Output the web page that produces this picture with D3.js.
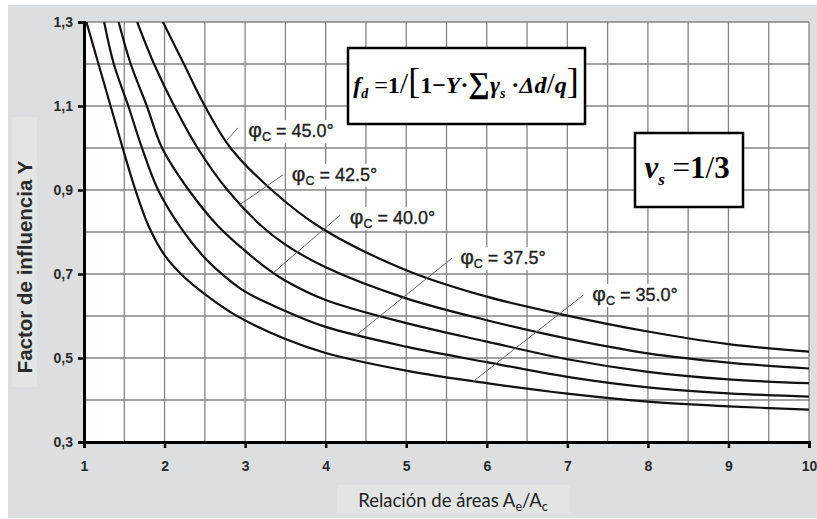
<!DOCTYPE html>
<meta charset="utf-8">
<script src="https://d3js.org/d3.v7.min.js"></script>
<style>
  body { margin: 0; background: #fff; }
  .tick text { font-family: 'Liberation Sans', Arial, sans-serif; font-weight: bold; font-size: 14px; fill: #2a2a2a; }
</style>
<div id="chart"></div>
<script>
// axis ticks
const xTicks = [1, 2, 3, 4, 5, 6, 7, 8, 9, 10];
const yTicks = [0.3, 0.5, 0.7, 0.9, 1.1, 1.3];

// curves, one per friction angle
const phiValues = ["35.0", "37.5", "40.0", "42.5", "45.0"];
const x35 = [1.03, 1.18, 1.33, 1.48, 1.63, 1.8, 2.0, 2.22, 2.5, 2.88, 3.5, 4, 5, 6, 7, 8, 9, 10];
const y35 = [1.30, 1.20, 1.10, 1.00, 0.905, 0.815, 0.745, 0.697, 0.652, 0.602, 0.545, 0.512, 0.47, 0.44, 0.415, 0.396, 0.385, 0.377];
const x375 = [1.25, 1.37, 1.55, 1.72, 1.92, 2.22, 2.5, 2.7, 3, 3.5, 4, 5, 6, 7, 8, 9, 10];
const y375 = [1.30, 1.20, 1.10, 1.00, 0.90, 0.805, 0.738, 0.702, 0.658, 0.612, 0.574, 0.527, 0.49, 0.455, 0.43, 0.416, 0.408];
const x40 = [1.43, 1.58, 1.78, 1.97, 2.3, 2.66, 3.0, 3.33, 3.5, 4, 5, 6, 7, 8, 9, 10];
const y40 = [1.30, 1.20, 1.10, 1.00, 0.90, 0.815, 0.755, 0.705, 0.684, 0.638, 0.583, 0.539, 0.497, 0.467, 0.449, 0.44];
const x425 = [1.66, 1.87, 2.12, 2.41, 2.78, 3.2, 3.5, 4, 5, 6, 7, 8, 9, 10];
const y425 = [1.30, 1.20, 1.10, 1.00, 0.90, 0.815, 0.77, 0.716, 0.642, 0.59, 0.546, 0.511, 0.489, 0.475];
const x45 = [1.98, 2.24, 2.5, 2.82, 3.33, 3.94, 5, 6, 7, 8, 9, 10];
const y45 = [1.30, 1.20, 1.10, 1.00, 0.90, 0.81, 0.709, 0.646, 0.601, 0.563, 0.533, 0.515];

const curves = [
  { phi: phiValues[0], xs: x35, ys: y35 },
  { phi: phiValues[1], xs: x375, ys: y375 },
  { phi: phiValues[2], xs: x40, ys: y40 },
  { phi: phiValues[3], xs: x425, ys: y425 },
  { phi: phiValues[4], xs: x45, ys: y45 }
];

const W = 817, H = 519;
const svg = d3.select("#chart").append("svg").attr("width", W).attr("height", H);

// grey panel
svg.append("rect").attr("x", 8).attr("y", 5).attr("width", W - 8).attr("height", H - 6).attr("fill", "#dddedf");
// lighter boxes behind axis titles
svg.append("rect").attr("x", 12).attr("y", 117).attr("width", 25).attr("height", 270).attr("fill", "#e3e4e4");
svg.append("rect").attr("x", 337).attr("y", 485).attr("width", 233).attr("height", 28).attr("fill", "#e3e4e4");

const x = d3.scaleLinear().domain([1, 10]).range([84, 809]);
const y = d3.scaleLinear().domain([0.3, 1.3]).range([442, 22]);

// plot area
svg.append("rect").attr("x", x(1)).attr("y", y(1.3))
  .attr("width", x(10) - x(1)).attr("height", y(0.3) - y(1.3)).attr("fill", "#fff");

// grid
const grid = svg.append("g").attr("stroke", "#858585").attr("stroke-width", 1.3);
d3.range(1.5, 10.01, 0.5).forEach(v => {
  grid.append("line").attr("x1", x(v)).attr("x2", x(v)).attr("y1", y(0.3)).attr("y2", y(1.3));
});
d3.range(0.4, 1.301, 0.1).forEach(v => {
  grid.append("line").attr("x1", x(1)).attr("x2", x(10)).attr("y1", y(v)).attr("y2", y(v));
});

// curves
svg.append("clipPath").attr("id", "plotclip").append("rect")
  .attr("x", x(1)).attr("y", y(1.3)).attr("width", x(10) - x(1)).attr("height", y(0.3) - y(1.3));
const line = d3.line().x(d => x(d[0])).y(d => y(d[1])).curve(d3.curveCatmullRom.alpha(0.5));
svg.append("g").attr("clip-path", "url(#plotclip)")
  .selectAll("path").data(curves).enter().append("path")
  .attr("d", c => line(c.xs.map((v, i) => [v, c.ys[i]])))
  .attr("fill", "none").attr("stroke", "#111").attr("stroke-width", 2.2);

// curve labels with leader lines (data coordinates)
const notes = [
  { phi: "45.0", from: [2.91, 1.048], to: [2.776, 1.019], tx: 3.04, ty: 1.04 },
  { phi: "42.5", from: [3.47, 0.936], to: [2.94, 0.866], tx: 3.58, ty: 0.936 },
  { phi: "40.0", from: [4.18, 0.840], to: [3.35, 0.703], tx: 4.30, ty: 0.833 },
  { phi: "37.5", from: [5.57, 0.738], to: [4.37, 0.553], tx: 5.67, ty: 0.738 },
  { phi: "35.0", from: [7.20, 0.650], to: [5.83, 0.444], tx: 7.31, ty: 0.650 }
];
const ng = svg.append("g");
notes.forEach(n => {
  const bg = ng.append("rect").attr("fill", "#fff");
  const t = ng.append("text").attr("x", x(n.tx)).attr("y", y(n.ty) + 6)
    .attr("font-family", "'Liberation Sans', Arial, sans-serif").attr("font-size", 18)
    .attr("fill", "#222").attr("stroke", "#222").attr("stroke-width", 0.35);
  t.append("tspan").attr("font-size", 21).text("φ");
  t.append("tspan").attr("font-size", 12.5).attr("dy", 4).text("C");
  t.append("tspan").attr("dy", -4).text(" = " + n.phi + "°");
  const b = t.node().getBBox();
  bg.attr("x", b.x - 1).attr("y", b.y + 2).attr("width", b.width + 2).attr("height", b.height - 3);
  ng.append("line").attr("x1", x(n.from[0])).attr("y1", y(n.from[1]))
    .attr("x2", x(n.to[0])).attr("y2", y(n.to[1]))
    .attr("stroke", "#666").attr("stroke-width", 1);
});

// axes
const yAxis = svg.append("g").attr("transform", `translate(${x(1)},0)`)
  .call(d3.axisLeft(y).tickValues(yTicks).tickSize(6).tickPadding(5).tickFormat(d => d3.format(".1f")(d).replace(".", ",")));
const xAxis = svg.append("g").attr("transform", `translate(0,${y(0.3)})`)
  .call(d3.axisBottom(x).tickValues(xTicks).tickSize(6).tickPadding(13).tickFormat(d3.format("d")));
[xAxis, yAxis].forEach(a => {
  a.select(".domain").attr("stroke", "#000").attr("stroke-width", 3);
  a.selectAll(".tick line").attr("stroke", "#000").attr("stroke-width", 2.5);
});

// axis titles
svg.append("text").attr("transform", "translate(32,267) rotate(-90)")
  .attr("text-anchor", "middle").attr("font-family", "'Liberation Sans', Arial, sans-serif")
  .attr("font-weight", "bold").attr("font-size", 20.5).attr("fill", "#2a2a2a")
  .text("Factor de influencia Y");

const xt = svg.append("text").attr("x", 453).attr("y", 507).attr("text-anchor", "middle")
  .attr("font-family", "Lato, 'Open Sans', sans-serif").attr("font-size", 18.5).attr("fill", "#222");
xt.append("tspan").text("Relación de áreas A");
xt.append("tspan").attr("font-size", 12.5).attr("dy", 4).text("e");
xt.append("tspan").attr("dy", -4).text("/A");
xt.append("tspan").attr("font-size", 12.5).attr("dy", 4).text("c");

// formula box
svg.append("rect").attr("x", 348).attr("y", 48).attr("width", 237).attr("height", 76)
  .attr("fill", "#fff").attr("stroke", "#000").attr("stroke-width", 2.5);
const f = svg.append("text").attr("x", 466).attr("y", 93).attr("text-anchor", "middle")
  .attr("font-family", "'Liberation Serif', 'Times New Roman', serif").attr("font-weight", "bold")
  .attr("font-size", 24).attr("fill", "#000");
f.append("tspan").attr("font-style", "italic").text("f");
f.append("tspan").attr("font-style", "italic").attr("font-size", 14).attr("dy", 5).text("d");
f.append("tspan").attr("dy", -5).attr("font-weight", "normal").text(" =");
f.append("tspan").text("1");
f.append("tspan").attr("font-weight", "normal").attr("font-size", 30).text("/");
f.append("tspan").attr("font-weight", "normal").attr("font-size", 36).text("[");
f.append("tspan").text("1−");
f.append("tspan").attr("font-style", "italic").text("Y");
f.append("tspan").text("·");
f.append("tspan").attr("font-size", 30).text("∑");
f.append("tspan").attr("font-style", "italic").text("γ");
f.append("tspan").attr("font-style", "italic").attr("font-size", 14).attr("dy", 5).text("s");
f.append("tspan").attr("dy", -5).text(" ·");
f.append("tspan").attr("font-style", "italic").text("Δd");
f.append("tspan").attr("font-weight", "normal").attr("font-size", 30).text("/");
f.append("tspan").attr("font-style", "italic").text("q");
f.append("tspan").attr("font-weight", "normal").attr("font-size", 36).text("]");

// poisson ratio box
svg.append("rect").attr("x", 635).attr("y", 133).attr("width", 108).attr("height", 74)
  .attr("fill", "#fff").attr("stroke", "#000").attr("stroke-width", 2.5);
const nu = svg.append("text").attr("x", 687).attr("y", 178).attr("text-anchor", "middle")
  .attr("font-family", "'Liberation Serif', 'Times New Roman', serif").attr("font-weight", "bold")
  .attr("font-size", 31).attr("fill", "#000");
nu.append("tspan").attr("font-style", "italic").text("ν");
nu.append("tspan").attr("font-style", "italic").attr("font-size", 17).attr("dy", 7).text("s");
nu.append("tspan").attr("dy", -7).attr("font-weight", "normal").text(" =");
nu.append("tspan").text("1");
nu.append("tspan").attr("font-weight", "normal").text("/");
nu.append("tspan").text("3");
</script>
